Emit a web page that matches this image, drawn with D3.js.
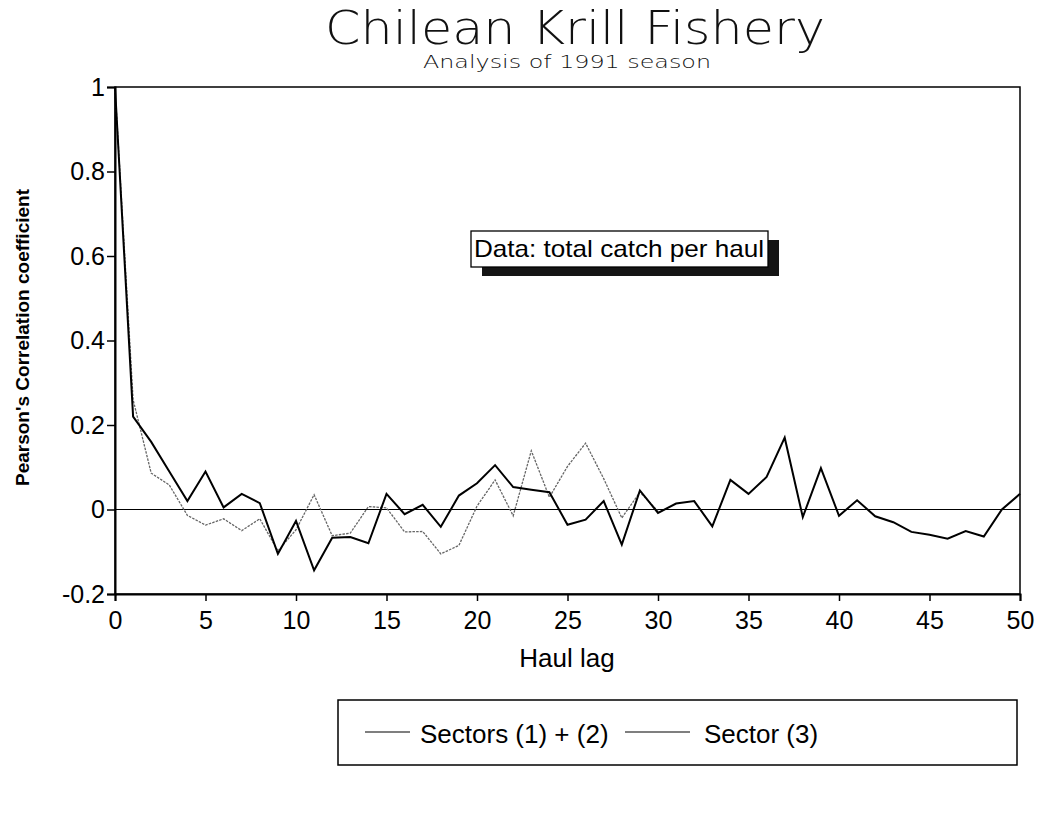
<!DOCTYPE html>
<html><head><meta charset="utf-8">
<script src="https://cdn.jsdelivr.net/npm/d3@7"></script>
<style>body{margin:0;background:#fff}svg{display:block}</style>
</head><body>
<svg id="c" width="1046" height="819"></svg>
<script>
const lags = d3.range(0, 51);
const sectors12 = [1, 0.22, 0.16, 0.09, 0.02, 0.09, 0.005, 0.037, 0.015, -0.105, -0.027,
  -0.144, -0.067, -0.065, -0.08, 0.037, -0.011, 0.011, -0.041, 0.033, 0.062,
  0.105, 0.053, 0.047, 0.041, -0.036, -0.024, 0.02, -0.083, 0.045, -0.008,
  0.014, 0.02, -0.04, 0.07, 0.037, 0.077, 0.17, -0.018, 0.098, -0.015,
  0.022, -0.016, -0.03, -0.053, -0.06, -0.069, -0.051, -0.064, 0.0, 0.037];
const sector3 = [1, 0.26, 0.086, 0.058, -0.014, -0.037, -0.022, -0.05, -0.022, -0.098, -0.048,
  0.035, -0.062, -0.056, 0.007, 0.004, -0.053, -0.052, -0.105, -0.085, 0.008,
  0.07, -0.015, 0.139, 0.029, 0.102, 0.157, 0.073, -0.02, 0.041, -0.004];
const yTicks = [-0.2, 0, 0.2, 0.4, 0.6, 0.8, 1];
const yTickLabels = ["-0.2", "0", "0.2", "0.4", "0.6", "0.8", "1"];
const xTicks = d3.range(0, 51, 5);
const titleText = "Chilean Krill Fishery";
const subtitleText = "Analysis of 1991 season";
const noteText = "Data: total catch per haul";
const seriesNames = ["Sectors (1) + (2)", "Sector (3)"];

const svg = d3.select("#c");
const L = 115, R = 1020, T = 87, B = 594;
const x = d3.scaleLinear().domain([0, 50]).range([L, R]);
const y = d3.scaleLinear().domain([-0.2, 1]).range([B, T]);
const font = "'Liberation Sans', Arial, sans-serif";

// title
svg.append("text").attr("x", 575).attr("y", 44).attr("text-anchor", "middle")
  .attr("font-family", "'DejaVu Sans', sans-serif").attr("font-weight", 200)
  .attr("font-size", 46).attr("textLength", 500).attr("lengthAdjust", "spacingAndGlyphs")
  .attr("fill", "#111").text(titleText);
svg.append("text").attr("x", 567).attr("y", 68).attr("text-anchor", "middle")
  .attr("font-family", "'DejaVu Sans', sans-serif").attr("font-weight", 200)
  .attr("font-size", 18).attr("textLength", 288).attr("lengthAdjust", "spacingAndGlyphs")
  .attr("fill", "#111").text(subtitleText);

// frame
svg.append("rect").attr("x", L).attr("y", T).attr("width", R - L).attr("height", B - T)
  .attr("fill", "none").attr("stroke", "#000").attr("stroke-width", 1.5);

// axes
const gy = svg.append("g").attr("transform", `translate(${L},0)`)
  .call(d3.axisLeft(y).tickValues(yTicks).tickSize(8).tickPadding(2)
    .tickFormat((d, i) => yTickLabels[i]));
gy.select(".domain").attr("stroke-width", 2);
gy.selectAll(".tick line").attr("stroke-width", 1.5);
gy.selectAll(".tick text").attr("font-family", font).attr("font-size", 25).attr("fill", "#000");

const gx = svg.append("g").attr("transform", `translate(0,${B})`)
  .call(d3.axisBottom(x).tickValues(xTicks).tickSize(7).tickPadding(10));
gx.select(".domain").attr("stroke-width", 2);
gx.selectAll(".tick line").attr("stroke-width", 1.5);
gx.selectAll(".tick text").attr("font-family", font).attr("font-size", 25).attr("fill", "#000");

// zero line
svg.append("line").attr("x1", L).attr("x2", R).attr("y1", y(0)).attr("y2", y(0))
  .attr("stroke", "#000").attr("stroke-width", 1.2);

// axis titles
svg.append("text").attr("x", 567).attr("y", 667).attr("text-anchor", "middle")
  .attr("font-family", font).attr("font-size", 26).text("Haul lag");
svg.append("text").attr("transform", `translate(29,${(T + B) / 2 - 3}) rotate(-90)`)
  .attr("text-anchor", "middle").attr("font-family", font).attr("font-weight", "bold")
  .attr("font-size", 19).text("Pearson's Correlation coefficient");

// lines
const line = d3.line().x((d, i) => x(lags[i])).y(d => y(d));
svg.append("path").datum(sector3).attr("d", line).attr("fill", "none")
  .attr("stroke", "#666").attr("stroke-width", 1.3).attr("stroke-dasharray", "2.5,1.2");
svg.append("path").datum(sectors12).attr("d", line).attr("fill", "none")
  .attr("stroke", "#000").attr("stroke-width", 2);

// note box with shadow
const nb = {x: 471, y: 231, w: 297, h: 36};
svg.append("rect").attr("x", nb.x + 11).attr("y", nb.y + 9).attr("width", nb.w).attr("height", nb.h)
  .attr("fill", "#151515");
svg.append("rect").attr("x", nb.x).attr("y", nb.y).attr("width", nb.w).attr("height", nb.h)
  .attr("fill", "#fff").attr("stroke", "#000").attr("stroke-width", 1.3);
svg.append("text").attr("x", nb.x + 3).attr("y", nb.y + 26).attr("font-family", font)
  .attr("font-size", 24).attr("textLength", 290).attr("lengthAdjust", "spacingAndGlyphs")
  .text(noteText);

// legend
svg.append("rect").attr("x", 338).attr("y", 700).attr("width", 679).attr("height", 65)
  .attr("fill", "#fff").attr("stroke", "#000").attr("stroke-width", 1.5);
const legItems = [{x1: 365, x2: 410, tx: 420}, {x1: 625, x2: 690, tx: 704}];
seriesNames.forEach((n, i) => {
  const it = legItems[i];
  svg.append("line").attr("x1", it.x1).attr("x2", it.x2).attr("y1", 732).attr("y2", 732)
    .attr("stroke", "#000").attr("stroke-width", 1.2);
  svg.append("text").attr("x", it.tx).attr("y", 743).attr("font-family", font)
    .attr("font-size", 26).text(n);
});
</script>
</body></html>
